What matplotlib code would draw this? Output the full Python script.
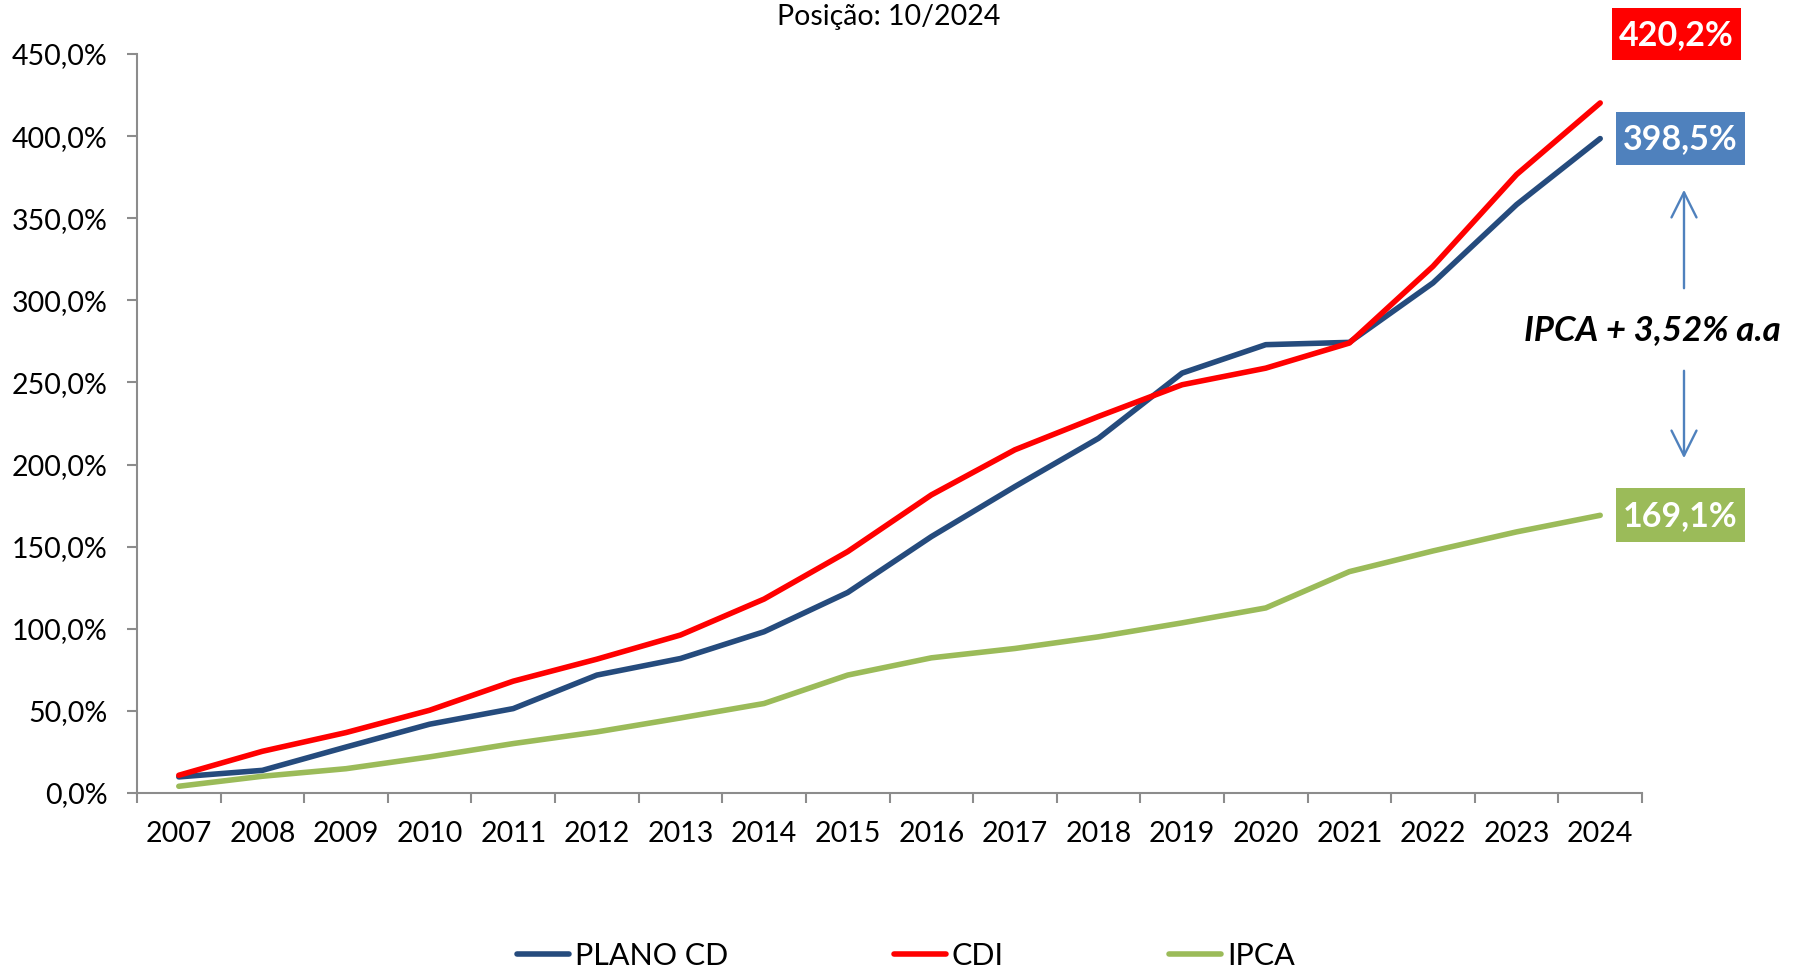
import matplotlib
matplotlib.use("Agg")
import matplotlib.pyplot as plt
from matplotlib.patches import Rectangle, FancyArrowPatch

plt.rcParams['font.family'] = ['Lato', 'DejaVu Sans']

years = ['2007', '2008', '2009', '2010', '2011', '2012', '2013', '2014', '2015',
         '2016', '2017', '2018', '2019', '2020', '2021', '2022', '2023', '2024']
plano_cd = [9.8, 13.8, 28.0, 41.9, 51.4, 71.8, 81.9, 98.2, 122.1, 156.1, 186.6,
            216.0, 255.7, 273.0, 274.4, 310.6, 358.3, 398.5]
cdi = [10.8, 25.4, 36.8, 50.4, 68.1, 81.5, 96.2, 118.1, 147.0, 181.5, 209.0,
       229.3, 248.6, 258.7, 274.0, 320.7, 376.6, 420.2]
ipca = [4.1, 10.2, 14.8, 22.0, 30.1, 37.2, 45.7, 54.5, 71.8, 82.3, 88.0,
        95.1, 103.6, 112.7, 134.8, 147.4, 159.0, 169.1]
series_names = ['PLANO CD', 'CDI', 'IPCA']
title_text = 'Posição: 10/2024'
spread_text = 'IPCA + 3,52% a.a'
yticks = [0, 50, 100, 150, 200, 250, 300, 350, 400, 450]

C_NAVY = '#254B7D'
C_RED = '#FF0000'
C_GREEN = '#9BBB59'
C_BLUE = '#4F81BD'
C_AXIS = '#8C8C8C'

W, H = 1801, 969
fig = plt.figure(figsize=(W / 100, H / 100), dpi=100)
fig.patch.set_facecolor('white')

def fx(px):
    return px / W

def fy(py):
    return 1 - py / H

ax = fig.add_axes([fx(137), fy(793), fx(1642) - fx(137), fy(54) - fy(793)])

x = list(range(len(years)))
lw = 4.0
l1, = ax.plot(x, plano_cd, color=C_NAVY, lw=lw, solid_capstyle='round', label=series_names[0], zorder=3)
l2, = ax.plot(x, cdi, color=C_RED, lw=lw, solid_capstyle='round', label=series_names[1], zorder=4)
l3, = ax.plot(x, ipca, color=C_GREEN, lw=lw, solid_capstyle='round', label=series_names[2], zorder=2)

ax.set_xlim(-0.5, len(years) - 0.5)
ax.set_ylim(0, 450)

for s in ['top', 'right']:
    ax.spines[s].set_visible(False)
for s in ['left', 'bottom']:
    ax.spines[s].set_color(C_AXIS)
    ax.spines[s].set_linewidth(1.5)

ax.set_yticks(yticks)
ax.set_yticklabels([f'{v:.1f}'.replace('.', ',') + '%' for v in yticks])
ax.tick_params(axis='y', direction='out', length=7, width=1.5, color=C_AXIS,
               labelsize=20.5, pad=14)

ax.set_xticks([i - 0.5 for i in range(len(years) + 1)])
ax.set_xticklabels([])
ax.tick_params(axis='x', which='major', direction='out', length=7, width=1.5, color=C_AXIS)
ax.set_xticks(x, minor=True)
ax.set_xticklabels(years, minor=True)
ax.tick_params(axis='x', which='minor', length=0, labelsize=20.5, pad=20)

fig.text(fx(889), fy(17), title_text, ha='center', va='center', fontsize=20.5)

# End-value boxes
boxes = [
    (cdi[-1], C_RED, 1612, 8, 1741, 60),
    (plano_cd[-1], C_BLUE, 1616, 112, 1745, 165),
    (ipca[-1], C_GREEN, 1616, 488, 1745, 542),
]
for val, col, x0, y0, x1, y1 in boxes:
    fig.patches.append(Rectangle((fx(x0), fy(y1)), fx(x1) - fx(x0), fy(y0) - fy(y1),
                                 transform=fig.transFigure, facecolor=col, edgecolor='none'))
    fig.text(fx((x0 + x1) / 2), fy((y0 + y1) / 2 + 1), f'{val:.1f}'.replace('.', ',') + '%',
             ha='center', va='center', color='white', fontsize=24.5, fontweight='bold')

# Arrows
for (ya, yb) in [(291, 187), (368, 461)]:
    arr = FancyArrowPatch((fx(1684), fy(ya)), (fx(1684), fy(yb)), transform=fig.transFigure,
                          arrowstyle='->,head_width=0.45,head_length=0.9', mutation_scale=20,
                          color=C_BLUE, lw=1.7)
    fig.patches.append(arr)

fig.text(fx(1652), fy(330), spread_text, ha='center', va='center', fontsize=25,
         fontweight='bold', fontstyle='italic', color='black')

leg = fig.legend(handles=[l1, l2, l3], labels=series_names, loc='center',
                 bbox_to_anchor=(fx(906), fy(956)), ncol=3, frameon=False,
                 fontsize=22, handlelength=1.7, handletextpad=0.2, columnspacing=5.4)

fig.savefig('out.png', dpi=100, facecolor='white')
